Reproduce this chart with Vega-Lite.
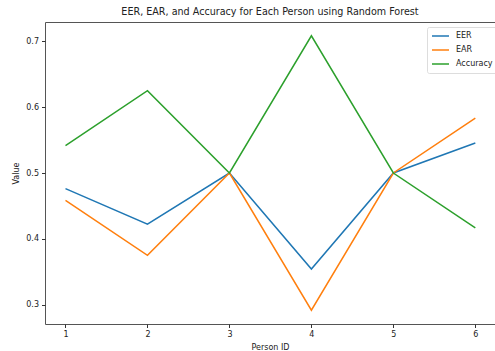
{
  "$schema": "https://vega.github.io/schema/vega-lite/v6.json",
  "width": 450,
  "height": 302,
  "autosize": {"type": "none"},
  "padding": {"left": 45, "top": 22, "right": 0, "bottom": 27},
  "background": "white",
  "config": {
    "font": "DejaVu Sans",
    "view": {"stroke": "#555", "strokeWidth": 1},
    "axis": {"grid": false, "domain": false, "tickColor": "#333", "tickSize": 3.5, "labelFontSize": 8, "titleFontSize": 8, "labelColor": "#222", "titleColor": "#222", "titleFontWeight": "normal", "labelFont": "DejaVu Sans", "titleFont": "DejaVu Sans"}
  },
  "title": {"text": "EER, EAR, and Accuracy for Each Person using Random Forest", "fontSize": 9.6, "fontWeight": "normal", "font": "DejaVu Sans", "color": "#222", "anchor": "middle", "offset": 5},
  "data": {
    "values": [
      {"person": 1, "metric": "EER", "value": 0.4762},
      {"person": 2, "metric": "EER", "value": 0.4222},
      {"person": 3, "metric": "EER", "value": 0.5},
      {"person": 4, "metric": "EER", "value": 0.3542},
      {"person": 5, "metric": "EER", "value": 0.5},
      {"person": 6, "metric": "EER", "value": 0.5455},
      {"person": 1, "metric": "EAR", "value": 0.4583},
      {"person": 2, "metric": "EAR", "value": 0.375},
      {"person": 3, "metric": "EAR", "value": 0.5},
      {"person": 4, "metric": "EAR", "value": 0.2917},
      {"person": 5, "metric": "EAR", "value": 0.5},
      {"person": 6, "metric": "EAR", "value": 0.5833},
      {"person": 1, "metric": "Accuracy", "value": 0.5417},
      {"person": 2, "metric": "Accuracy", "value": 0.625},
      {"person": 3, "metric": "Accuracy", "value": 0.5},
      {"person": 4, "metric": "Accuracy", "value": 0.7083},
      {"person": 5, "metric": "Accuracy", "value": 0.5},
      {"person": 6, "metric": "Accuracy", "value": 0.4167}
    ]
  },
  "mark": {"type": "line", "strokeWidth": 1.5},
  "encoding": {
    "x": {"field": "person", "type": "quantitative", "scale": {"domain": [0.75, 6.24], "nice": false, "zero": false},
      "axis": {"values": [1, 2, 3, 4, 5, 6], "format": "d", "title": "Person ID", "labelPadding": 3, "titlePadding": 5}},
    "y": {"field": "value", "type": "quantitative", "scale": {"domain": [0.2708, 0.7292], "nice": false, "zero": false},
      "axis": {"values": [0.3, 0.4, 0.5, 0.6, 0.7], "format": ".1f", "title": "Value", "labelPadding": 3, "titlePadding": 5}},
    "color": {"field": "metric", "type": "nominal",
      "scale": {"domain": ["EER", "EAR", "Accuracy"], "range": ["#1f77b4", "#ff7f0e", "#2ca02c"]},
      "legend": {"title": null, "orient": "none", "legendX": 382, "legendY": 5, "symbolType": "stroke", "symbolSize": 289, "symbolStrokeWidth": 1.5, "labelFontSize": 8, "labelColor": "#222", "clipHeight": 10, "rowPadding": 4, "padding": 4, "fillColor": "white", "strokeColor": "#ddd", "cornerRadius": 2, "labelOffset": 6}}
  }
}
